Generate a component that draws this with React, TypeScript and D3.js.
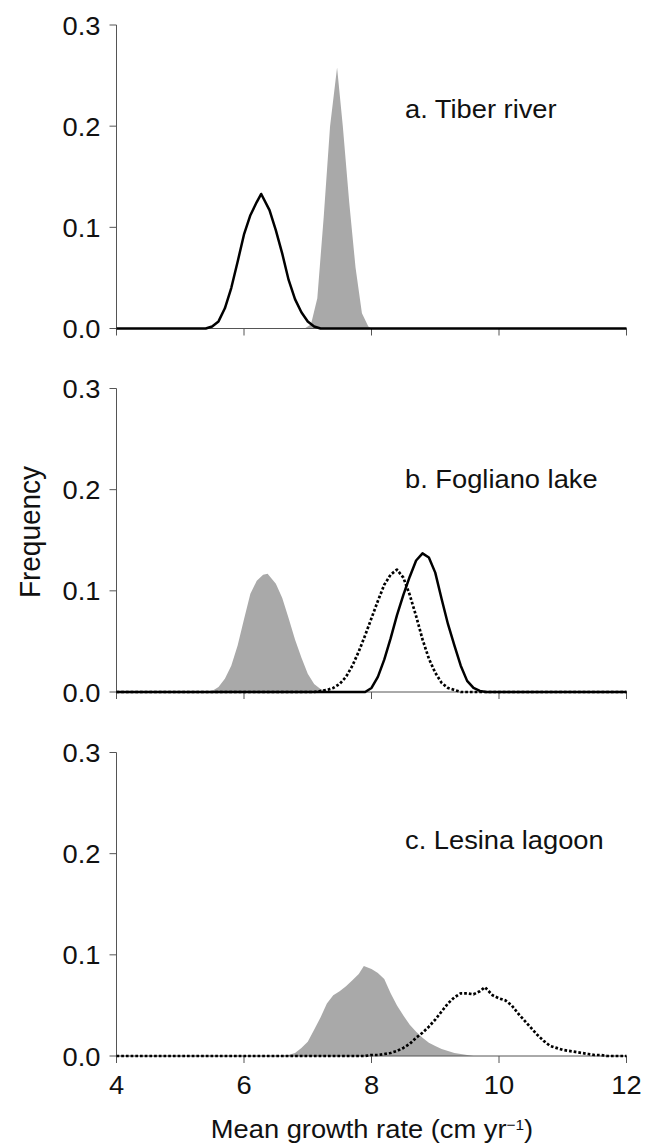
import React from "react";
import * as d3 from "d3";

// ---------- data (x = mean growth rate, y = frequency) ----------
const xTicks = [4, 6, 8, 10, 12];
const yTicks = [0, 0.1, 0.2, 0.3];
const panelLabels = ["a. Tiber river", "b. Fogliano lake", "c. Lesina lagoon"];

// Panel a
const aGray: [number, number][] = [
  [6.95, 0], [7.05, 0.004], [7.15, 0.03], [7.25, 0.11], [7.35, 0.2], [7.46, 0.258],
  [7.55, 0.2], [7.65, 0.125], [7.75, 0.06], [7.85, 0.015], [7.95, 0.002], [8.0, 0],
];
const aSolid: [number, number][] = [
  [4, 0], [5.4, 0], [5.5, 0.002], [5.6, 0.007], [5.7, 0.02], [5.8, 0.04], [5.9, 0.066],
  [6.0, 0.093], [6.1, 0.112], [6.2, 0.125], [6.27, 0.133], [6.4, 0.117], [6.5, 0.097],
  [6.6, 0.074], [6.7, 0.048], [6.8, 0.029], [6.9, 0.016], [7.0, 0.007], [7.1, 0.002],
  [7.2, 0], [12, 0],
];

// Panel b
const bGray: [number, number][] = [
  [5.4, 0], [5.5, 0.001], [5.6, 0.005], [5.7, 0.013], [5.8, 0.026], [5.9, 0.046],
  [6.0, 0.072], [6.1, 0.097], [6.2, 0.11], [6.3, 0.116], [6.37, 0.117], [6.5, 0.107],
  [6.6, 0.093], [6.7, 0.073], [6.8, 0.052], [6.9, 0.034], [7.0, 0.018], [7.1, 0.008],
  [7.2, 0.003], [7.3, 0.001], [7.4, 0],
];
const bDotted: [number, number][] = [
  [4, 0], [7.1, 0], [7.2, 0.001], [7.3, 0.002], [7.4, 0.004], [7.5, 0.008], [7.6, 0.015],
  [7.7, 0.026], [7.8, 0.04], [7.9, 0.056], [8.0, 0.073], [8.1, 0.09], [8.2, 0.106],
  [8.3, 0.116], [8.4, 0.121], [8.5, 0.113], [8.6, 0.096], [8.7, 0.075], [8.8, 0.052],
  [8.9, 0.033], [9.0, 0.019], [9.1, 0.009], [9.2, 0.004], [9.3, 0.002], [9.4, 0], [12, 0],
];
const bSolid: [number, number][] = [
  [4, 0], [7.9, 0], [8.0, 0.004], [8.1, 0.015], [8.2, 0.032], [8.3, 0.053], [8.4, 0.076],
  [8.5, 0.096], [8.6, 0.114], [8.7, 0.13], [8.8, 0.137], [8.9, 0.133], [9.0, 0.118],
  [9.1, 0.092], [9.2, 0.067], [9.3, 0.046], [9.4, 0.026], [9.5, 0.011], [9.6, 0.004],
  [9.7, 0.001], [9.8, 0], [12, 0],
];

// Panel c
const cGray: [number, number][] = [
  [6.6, 0], [6.7, 0.001], [6.8, 0.003], [6.9, 0.008], [7.0, 0.014], [7.1, 0.026],
  [7.2, 0.038], [7.3, 0.052], [7.4, 0.06], [7.5, 0.064], [7.6, 0.069], [7.7, 0.075],
  [7.8, 0.081], [7.88, 0.089], [8.0, 0.086], [8.1, 0.082], [8.2, 0.076], [8.3, 0.062],
  [8.4, 0.05], [8.5, 0.04], [8.6, 0.031], [8.7, 0.024], [8.8, 0.018], [8.9, 0.013],
  [9.0, 0.01], [9.1, 0.007], [9.2, 0.005], [9.3, 0.003], [9.4, 0.002], [9.5, 0.001], [9.6, 0],
];
const cDotted: [number, number][] = [
  [4, 0], [7.9, 0], [8.0, 0.001], [8.1, 0.001], [8.2, 0.002], [8.3, 0.003], [8.4, 0.005],
  [8.5, 0.008], [8.6, 0.012], [8.7, 0.018], [8.8, 0.023], [8.9, 0.029], [9.0, 0.036],
  [9.1, 0.044], [9.2, 0.052], [9.3, 0.058], [9.4, 0.062], [9.5, 0.062], [9.6, 0.061],
  [9.7, 0.064], [9.78, 0.068], [9.9, 0.06], [10.0, 0.057], [10.1, 0.055], [10.2, 0.05],
  [10.3, 0.042], [10.4, 0.035], [10.5, 0.028], [10.6, 0.021], [10.7, 0.015], [10.8, 0.01],
  [10.9, 0.008], [11.0, 0.006], [11.1, 0.005], [11.2, 0.004], [11.3, 0.003], [11.4, 0.002],
  [11.5, 0.001], [11.6, 0.001], [11.7, 0], [12, 0],
];

type Series = { data: [number, number][]; kind: "gray" | "solid" | "dotted" };
const panels: Series[][] = [
  [
    { data: aGray, kind: "gray" },
    { data: aSolid, kind: "solid" },
  ],
  [
    { data: bGray, kind: "gray" },
    { data: bDotted, kind: "dotted" },
    { data: bSolid, kind: "solid" },
  ],
  [
    { data: cGray, kind: "gray" },
    { data: cDotted, kind: "dotted" },
  ],
];

// ---------- layout ----------
const W = 654;
const H = 1145;
const panelTops = [25, 388.5, 752.5];
const panelH = 303.5;
const xLeft = 116.5;
const xRight = 626.5;
const FONT = "'Liberation Sans', Arial, Helvetica, sans-serif";
const SX = 1.03;
const FS = 26.5;

const x = d3.scaleLinear().domain([4, 12]).range([xLeft, xRight]);

function Panel({ idx }: { idx: number }) {
  const top = panelTops[idx];
  const y = d3.scaleLinear().domain([0, 0.3]).range([top + panelH, top]);
  const area = d3
    .area<[number, number]>()
    .x((d) => x(d[0]))
    .y0(y(0))
    .y1((d) => y(d[1]));
  const line = d3
    .line<[number, number]>()
    .x((d) => x(d[0]))
    .y((d) => y(d[1]));
  const axisColor = "#555";
  const labelBaseline = [92.5, 99, 96.5][idx];
  return (
    <g>
      {panels[idx]
        .filter((s) => s.kind === "gray")
        .map((s, i) => (
          <path key={"g" + i} d={area(s.data) || ""} fill="#a9a9a9" stroke="none" />
        ))}
      <line x1={xLeft} x2={xLeft} y1={y(0.3)} y2={y(0)} stroke={axisColor} strokeWidth={1} />
      <line x1={xLeft} x2={xRight} y1={y(0)} y2={y(0)} stroke={axisColor} strokeWidth={1} />
      {yTicks.map((t) => (
        <g key={"yt" + t}>
          <line x1={xLeft - 7} x2={xLeft} y1={y(t)} y2={y(t)} stroke={axisColor} strokeWidth={1} />
          <text
            transform={`translate(${xLeft - 16},${y(t)}) scale(${SX},1)`}
            textAnchor="end"
            dy="0.36em"
            fontFamily={FONT}
            fontSize={FS}
            fill="#111"
          >
            {d3.format(".1f")(t)}
          </text>
        </g>
      ))}
      {xTicks.map((t) => (
        <line
          key={"xt" + t}
          x1={x(t)}
          x2={x(t)}
          y1={y(0)}
          y2={y(0) + 7}
          stroke={axisColor}
          strokeWidth={1}
        />
      ))}
      {idx === 2 &&
        xTicks.map((t) => (
          <text
            key={"xl" + t}
            transform={`translate(${x(t)},${y(0) + 38}) scale(${SX},1)`}
            textAnchor="middle"
            fontFamily={FONT}
            fontSize={FS}
            fill="#111"
          >
            {t}
          </text>
        ))}
      {panels[idx]
        .filter((s) => s.kind !== "gray")
        .map((s, i) => (
          <path
            key={"l" + i}
            d={line(s.data) || ""}
            fill="none"
            stroke="#000"
            strokeWidth={s.kind === "dotted" ? 2.7 : 2.5}
            strokeDasharray={s.kind === "dotted" ? "2.7 2" : undefined}
            strokeLinejoin="round"
          />
        ))}
      <text
        transform={`translate(405,${top + labelBaseline}) scale(${SX},1)`}
        fontFamily={FONT}
        fontSize={FS}
        fill="#111"
      >
        {panelLabels[idx]}
      </text>
    </g>
  );
}

export default function App() {
  return (
    <svg
      width={W}
      height={H}
      viewBox={`0 0 ${W} ${H}`}
      style={{ position: "absolute", left: 0, top: 0, background: "#fff" }}
    >
      <rect width={W} height={H} fill="#fff" />
      {[0, 1, 2].map((i) => (
        <Panel key={i} idx={i} />
      ))}
      <text
        transform={`translate(40,532) scale(${SX},1) rotate(-90)`}
        textAnchor="middle"
        fontFamily={FONT}
        fontSize={28}
        fill="#111"
      >
        Frequency
      </text>
      <text
        transform={`translate(372,1138) scale(${SX},1)`}
        textAnchor="middle"
        fontFamily={FONT}
        fontSize={FS}
        fill="#111"
      >
        Mean growth rate (cm yr
        <tspan baselineShift="super" fontSize={15}>
          −1
        </tspan>
        )
      </text>
    </svg>
  );
}
